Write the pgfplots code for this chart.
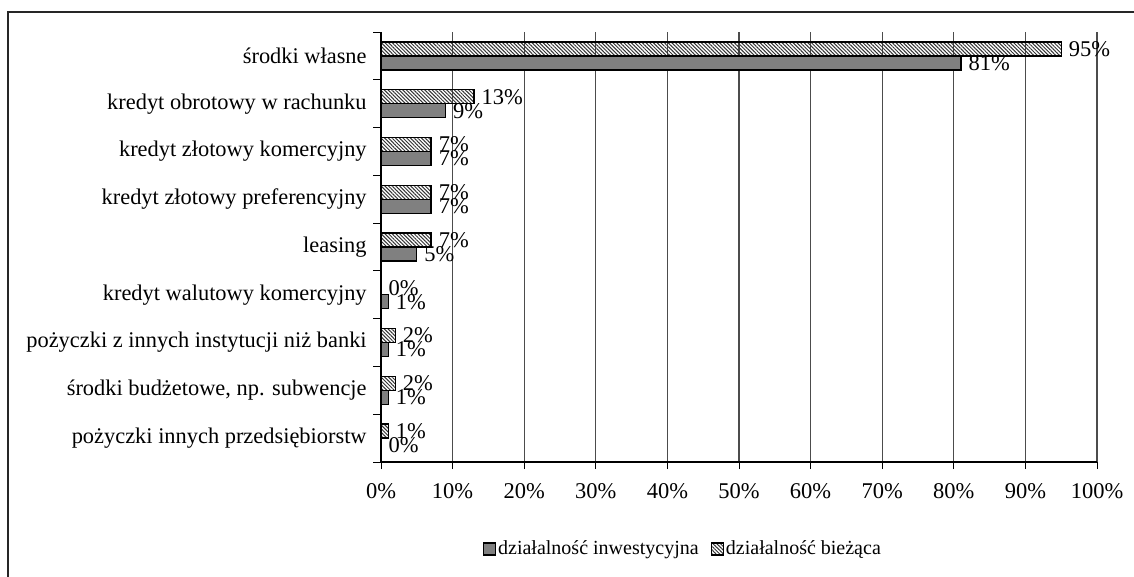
\documentclass[border=0pt]{standalone}
\usepackage{pgfplots}
\pgfplotsset{compat=1.18}
\usepackage{fontspec}
\setmainfont{Liberation Serif}
\usetikzlibrary{patterns.meta}
\definecolor{solidgray}{RGB}{128,128,128}
\begin{document}
\fontsize{21.5}{25}\selectfont
\begin{tikzpicture}
\useasboundingbox (0,0) rectangle (1134pt,-577pt);
\clip (0,0) rectangle (1134pt,-577pt);
\draw[line width=1.5pt, black!85] (8pt,-600pt) -- (8pt,-12pt) -- (1140pt,-12pt);
\begin{axis}[
  at={(381pt,-462pt)}, anchor=south west,
  width=716pt, height=430pt, scale only axis,
  xbar, bar width=14pt,
  xmin=0, xmax=100, ymin=-0.5, ymax=8.5,
  xtick={0,10,...,100},
  xticklabels={0\%,10\%,20\%,30\%,40\%,50\%,60\%,70\%,80\%,90\%,100\%},
  xticklabel style={font=\fontsize{22.5}{26}\selectfont, yshift=-7pt},
  ytick={0,...,8},
  yticklabels={pożyczki innych przedsiębiorstw,{środki budżetowe, np. subwencje},pożyczki z innych instytucji niż banki,kredyt walutowy komercyjny,leasing,kredyt złotowy preferencyjny,kredyt złotowy komercyjny,kredyt obrotowy w rachunku,środki własne},
  yticklabel style={font=\fontsize{22.4}{26}\selectfont},
  minor ytick={-0.5,0.5,...,8.5},
  tick align=outside, major tick length=7pt, minor tick length=8pt,
  major y tick style={draw=none},
  tick style={black, line width=1pt},
  xmajorgrids, major grid style={black!70, line width=1.1pt},
  axis x line*=bottom, axis y line*=left,
  axis line style={black, line width=1.2pt, -},
  nodes near coords={\pgfmathprintnumber[assume math mode=true]{\pgfplotspointmeta}\%},
  nodes near coords align=horizontal,
  every node near coord/.append style={anchor=west, inner sep=0pt, xshift=7pt, black, font=\fontsize{22.5}{26}\selectfont},
  legend style={at={(axis description cs:0.142,-0.202)}, anchor=west, draw=none, fill=none,
    legend columns=2, inner sep=0pt, cells={anchor=west}, font=\fontsize{20}{24}\selectfont,
    /tikz/every even column/.append style={column sep=10pt}},
  legend image code/.code={\draw[#1] (0pt,-6pt) rectangle (12pt,6pt);},
]
\addplot+[bar shift=-7pt, draw=black, line width=1.3pt, fill=solidgray, mark=none]
  coordinates {(81,8) (9,7) (7,6) (7,5) (5,4) (1,3) (1,2) (1,1) (0,0)};
\addlegendentry{działalność inwestycyjna}
\addplot+[bar shift=7pt, draw=black, line width=1.3pt, fill=white, pattern={Lines[angle=-45,distance=2.6pt,line width=1pt]}, pattern color=black!80, mark=none]
  coordinates {(95,8) (13,7) (7,6) (7,5) (7,4) (0,3) (2,2) (2,1) (1,0)};
\addlegendentry{działalność bieżąca}
\end{axis}
\end{tikzpicture}
\end{document}
